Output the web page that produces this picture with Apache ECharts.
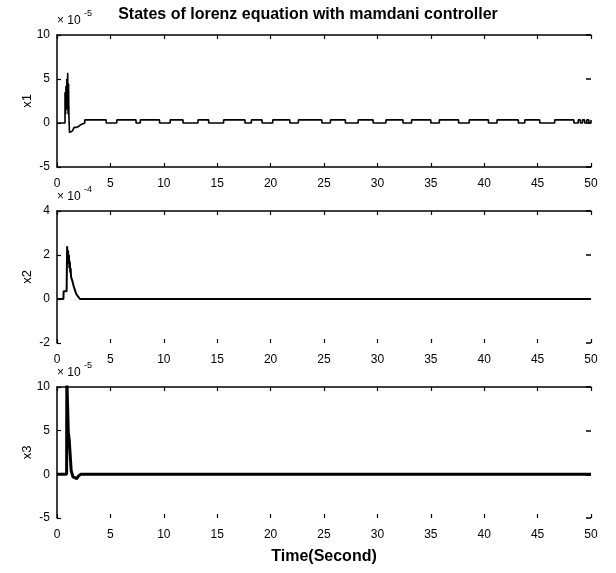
<!DOCTYPE html>
<html>
<head>
<meta charset="utf-8">
<script src="https://cdn.jsdelivr.net/npm/echarts@6/dist/echarts.min.js"></script>
<style>html,body{margin:0;padding:0;background:#fff}#c{width:616px;height:573px}</style>
</head>
<body>
<div id="c"></div>
<script>
// ---- data ----
const timeTicks = [0, 5, 10, 15, 20, 25, 30, 35, 40, 45, 50];
const titleText = 'States of lorenz equation with mamdani controller';
const xName = 'Time(Second)';
const seriesNames = ['x1', 'x2', 'x3'];
const exponents = ['-5', '-4', '-5'];
const yMin = [-5, -2, -5];
const yMax = [10, 4, 10];
const yStep = [5, 2, 5];

// x1 (x 10^-5), held values (step)
const x1Time = [0, 0.75, 0.8, 0.84, 0.88, 0.92, 0.96, 1.0, 1.04, 1.08, 1.12, 1.17, 1.3, 1.45, 1.6, 1.8, 2.0, 2.2,
  2.6, 4.6, 5.6, 7.4, 7.8, 9.6, 10.6, 11.8, 13.2, 14.2, 15.6, 17.6, 18.2, 19.2, 20.2, 21.8, 22.6, 24.8,
  25.6, 27.0, 28.2, 29.6, 30.8, 32.4, 33.2, 35.0, 35.8, 37.6, 38.6, 40.4, 41.2, 43.2, 43.8, 45.2, 46.6, 48.4,
  48.8, 49.0, 49.2, 49.4, 49.6, 49.8, 50];
const x1Val = [0, 3.5, 1.0, 4.2, 1.5, 5.0, 2.5, 5.7, 1.0, 4.5, 0.6, -1.1, -0.9, -0.7, -0.5, -0.4, -0.2, 0,
  0.35, 0, 0.35, 0, 0.35, 0, 0.35, 0, 0.35, 0, 0.35, 0, 0.35, 0, 0.35, 0, 0.35, 0,
  0.35, 0, 0.35, 0, 0.35, 0, 0.35, 0, 0.35, 0, 0.35, 0, 0.35, 0, 0.35, 0, 0.35, 0,
  0.35, 0, 0.35, 0, 0.35, 0, 0.35];

// x2 (x 10^-4)
const x2Time = [0, 0.6, 0.62, 0.9, 0.95, 1.0, 1.04, 1.08, 1.12, 1.16, 1.2, 1.24, 1.28, 1.32, 1.37, 1.45, 1.55, 1.65, 1.75, 1.84, 1.95, 2.15, 50];
const x2Val  = [0, 0, 0.35, 0.35, 2.4, 1.8, 2.2, 1.6, 2.0, 1.4, 1.7, 1.2, 1.4, 1.0, 1.0, 0.8, 0.6, 0.45, 0.3, 0.2, 0.15, 0, 0];

// x3 (x 10^-5)
const x3Time = [0, 0.9, 0.92, 1.02, 1.06, 1.1, 1.14, 1.3, 1.33, 1.42, 1.5, 1.6, 1.85, 2.0, 2.2, 50];
const x3Val  = [0, 0, 11, 11, 4.8, 4.8, 4.0, 4.0, 0.4, 0.4, -0.3, -0.5, -0.5, -0.2, 0, 0];

const zip = (t, v) => t.map((x, i) => [x, v[i]]);
const seriesData = [zip(x1Time, x1Val), zip(x2Time, x2Val), zip(x3Time, x3Val)];

// ---- layout ----
const font = 'Liberation Sans, Arial, sans-serif';
const gridTops = [35, 211, 387];
const gridH = [132, 132, 131];
const L = 57, R = 25;

const grids = [], xAxes = [], yAxes = [], series = [], graphics = [];
for (let i = 0; i < 3; i++) {
  grids.push({ left: L, right: R, top: gridTops[i], height: gridH[i], containLabel: false });
  xAxes.push({
    type: 'value', gridIndex: i, position: 'bottom', min: 0, max: 50, interval: 5,
    axisLine: { show: i === 0, onZero: false, lineStyle: { color: '#000', width: 1.5 } },
    axisTick: { show: true, inside: true, length: 4, lineStyle: { color: '#000', width: 1.2 } },
    axisLabel: { show: true, color: '#000', fontFamily: font, fontSize: 12, margin: 11 },
    splitLine: { show: false }
  });
  xAxes.push({
    type: 'value', gridIndex: i, position: 'top', min: 0, max: 50, interval: 5,
    axisLine: { show: true, onZero: false, lineStyle: { color: '#000', width: 1.5 } },
    axisTick: { show: true, inside: true, length: 4, lineStyle: { color: '#000', width: 1.2 } },
    axisLabel: { show: false }, splitLine: { show: false }
  });
  yAxes.push({
    type: 'value', gridIndex: i, position: 'left', min: yMin[i], max: yMax[i], interval: yStep[i],
    axisLine: { show: true, onZero: false, lineStyle: { color: '#000', width: 1.5 } },
    axisTick: { show: true, inside: true, length: 4, lineStyle: { color: '#000', width: 1.2 } },
    axisLabel: { show: true, color: '#000', fontFamily: font, fontSize: 12, margin: 7 },
    splitLine: { show: false }
  });
  yAxes.push({
    type: 'value', gridIndex: i, position: 'right', min: yMin[i], max: yMax[i], interval: yStep[i],
    axisLine: { show: false, onZero: false },
    axisTick: { show: true, inside: true, length: 5, lineStyle: { color: '#000', width: 1.5 } },
    axisLabel: { show: false }, splitLine: { show: false }
  });
  series.push({
    type: 'line', name: seriesNames[i], xAxisIndex: 2 * i, yAxisIndex: 2 * i,
    data: seriesData[i], showSymbol: false, symbol: 'none', clip: true,
    step: i === 0 ? 'end' : false,
    lineStyle: { color: '#000', width: i === 2 ? 3 : (i === 1 ? 2 : 1.6) },
    animation: false
  });
  graphics.push({
    type: 'text', left: L, top: gridTops[i] - 20,
    style: { text: '× 10', fill: '#000', font: '12px ' + font }
  });
  graphics.push({
    type: 'text', left: L + 27, top: gridTops[i] - 26,
    style: { text: exponents[i], fill: '#000', font: '9px ' + font }
  });
  graphics.push({
    type: 'text', x: 27, y: gridTops[i] + gridH[i] / 2, rotation: Math.PI / 2,
    style: { text: seriesNames[i], fill: '#000', font: '13px ' + font, align: 'center', verticalAlign: 'middle' }
  });
}
graphics.push({
  type: 'text', left: 'center', top: 7,
  style: { text: titleText, fill: '#000', font: 'bold 16px ' + font }
});
graphics.push({
  type: 'text', x: L + (616 - L - R) / 2, y: 557,
  style: { text: xName, fill: '#000', font: 'bold 16px ' + font, align: 'center', verticalAlign: 'middle' }
});

const chart = echarts.init(document.getElementById('c'), null, { renderer: 'canvas' });
chart.setOption({
  animation: false,
  backgroundColor: '#fff',
  grid: grids, xAxis: xAxes, yAxis: yAxes, series: series, graphic: graphics
});
</script>
</body>
</html>
